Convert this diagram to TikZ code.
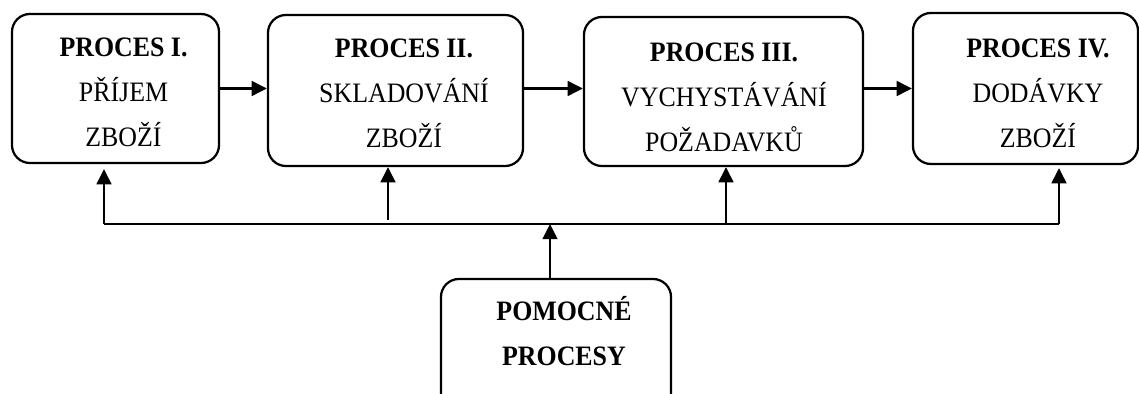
\documentclass[tikz,border=0pt]{standalone}
\usepackage{fontspec}
\setmainfont{Liberation Serif}[FakeStretch=0.92]
\usetikzlibrary{arrows.meta}

\begin{document}
\begin{tikzpicture}[x=0.025cm, y=-0.025cm,
  procbox/.style={draw, line width=1.6pt, rounded corners=0.45cm, inner sep=0pt},
  proctext/.style={align=center, inner sep=0pt, font=\fontsize{20pt}{32pt}\selectfont},
  arr/.style={line width=1.7pt, -{Triangle[length=0.38cm,width=0.37cm]}},
  bus/.style={line width=1.7pt}]

\clip (0,0) rectangle (1139,394);

% Bloky procesu
\node[procbox, minimum width=5.175cm, minimum height=3.725cm] (p1) at (115.5,88.5) {};
\node[procbox, minimum width=6.375cm, minimum height=3.775cm] (p2) at (395.5,90.5) {};
\node[procbox, minimum width=6.975cm, minimum height=3.725cm] (p3) at (723.5,91.5) {};
\node[procbox, minimum width=5.625cm, minimum height=3.775cm] (p4) at (1025.5,88.5) {};
\node[procbox, minimum width=5.75cm, minimum height=3.525cm] (pp) at (556,349.5) {};

% Texty
\node[proctext] (t1) at (123.5,92.5) {\textbf{PROCES I.}\\PŘÍJEM\\ZBOŽÍ};
\node[proctext] (t2) at (404,93.5) {\textbf{PROCES II.}\\SKLADOVÁNÍ\\ZBOŽÍ};
\node[proctext] (t3) at (724,97) {\textbf{PROCES III.}\\VYCHYSTÁVÁNÍ\\POŽADAVKŮ};
\node[proctext] (t4) at (1038,93.5) {\textbf{PROCES IV.}\\DODÁVKY\\ZBOŽÍ};
\node[proctext, font=\fontsize{20pt}{32pt}\selectfont\bfseries] (tp) at (564,331) {POMOCNÉ\\PROCESY};

% Hlavni tok
\draw[arr] (p1.east) -- (p1.east -| p2.west);
\draw[arr] (p2.east |- p1.east) -- (p1.east -| p3.west);
\draw[arr] (p3.east |- p4.west) -- (p4.west);

% Sbernice pomocnych procesu
\coordinate (busL) at (104,224);
\coordinate (busR) at (1059,224);
\coordinate (s2) at (388,224);
\coordinate (s3) at (726,224);
\coordinate (sp) at (550,224);
\draw[bus] (busL) -- (busR);

\coordinate (k1) at (busL |- p1.south);
\coordinate (k4) at (busR |- p4.south);
\draw[arr] (busL) -- ([yshift=-0.125cm]k1);
\draw[arr] ([yshift=0.1cm]s2) -- (s2 |- p2.south);
\draw[arr] (s3) -- (s3 |- p3.south);
\draw[arr] (busR) -- ([yshift=-0.075cm]k4);
\draw[arr] (sp |- pp.north) -- (sp);

\end{tikzpicture}
\end{document}
